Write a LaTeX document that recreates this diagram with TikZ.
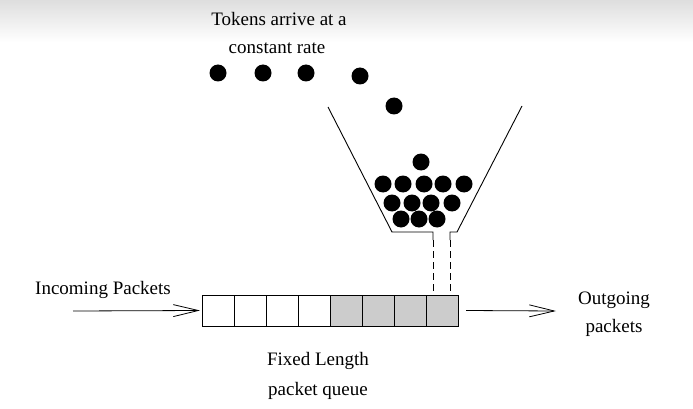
\documentclass[tikz,border=0pt]{standalone}
\usepackage{fontspec}
\setmainfont{Liberation Serif}
\usetikzlibrary{arrows.meta}
\begin{document}
\begin{tikzpicture}[x=1pt,y=-1pt,
  token/.style={circle,fill=black,inner sep=0pt,minimum size=17pt},
  cell/.style={draw,line width=0.9pt,minimum width=32pt,minimum height=31pt,inner sep=0pt,outer sep=0pt},
  fullcell/.style={cell,fill=black!20},
  lbl/.style={font=\fontsize{19}{21}\selectfont,inner sep=0pt},
  flow/.style={line width=0.8pt,-{Straight Barb[length=25pt,width=12pt,line width=0.8pt]}},
  wall/.style={line width=0.9pt}]
\useasboundingbox (0,0) rectangle (693,409);
\shade[top color=black!13,bottom color=white] (0,0) rectangle (693,42);
% title
\node[lbl] (t1) at (279,19) {Tokens arrive at a};
\node[lbl] (t2) at (277,48) {constant rate};
% falling tokens
\foreach \x/\y [count=\i] in {218/73,263/73,306/73,360/76,394/106}
  \node[token] (f\i) at (\x,\y) {};
% bucket
\coordinate (bl1) at (328,107);
\coordinate (bl2) at (392,232);
\coordinate (bl3) at (433,232);
\coordinate (bl4) at (433,240);
\coordinate (br1) at (522,106);
\coordinate (br2) at (457,232);
\coordinate (br3) at (450,232);
\coordinate (br4) at (450,240);
\draw[wall] (bl1) -- (bl2) -- (bl3) -- (bl4);
\draw[wall] (br1) -- (br2) -- (br3) -- (br4);
% tokens in bucket
\node[token] (b0) at (421,162) {};
\foreach \x [count=\i] in {383,403,424,443,464} \node[token] (ra\i) at (\x,184) {};
\foreach \x [count=\i] in {392,412,431,452} \node[token] (rb\i) at (\x,203) {};
\foreach \x [count=\i] in {401,419,437} \node[token] (rc\i) at (\x,219) {};
% queue
\foreach \i in {1,...,4} \node[cell] (q\i) at (202+32*\i-16,310.5) {};
\foreach \i in {5,...,8} \node[fullcell] (q\i) at (202+32*\i-16,310.5) {};
% spout dashes
\coordinate (s1) at (433,295);
\coordinate (s2) at (450,295);
\draw[wall,dashed,dash pattern=on 7pt off 4pt] (bl4) -- (s1);
\draw[wall,dashed,dash pattern=on 7pt off 4pt] (br4) -- (s2);
% arrows
\coordinate (inA) at (73,311);
\coordinate (outB) at (556,311);
\draw[flow] (inA) -- ([xshift=-2pt]q1.west);
\draw[flow] ([xshift=8pt]q8.east) -- (outB);
% labels
\node[lbl] (inl) at (103,290) {Incoming Packets};
\node[lbl] (o1) at (614,300) {Outgoing};
\node[lbl] (o2) at (614,328) {packets};
\node[lbl] (fl1) at (318,361) {Fixed Length};
\node[lbl] (fl2) at (318,391) {packet queue};
\end{tikzpicture}
\end{document}
